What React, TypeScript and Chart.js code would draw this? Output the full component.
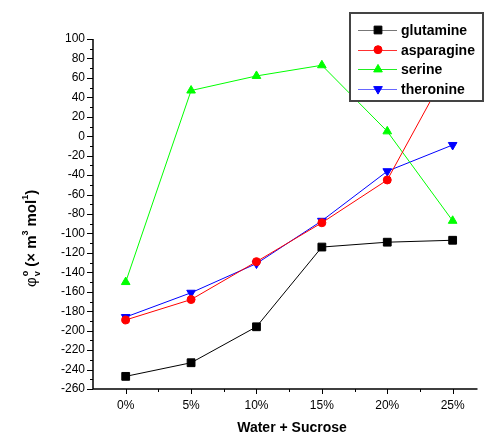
import React, { useEffect, useRef } from "react";
import { Chart, registerables } from "chart.js";
import { drawPoint } from "chart.js/helpers";

Chart.register(...registerables);

const categories = ["0%", "5%", "10%", "15%", "20%", "25%"];
const glutamine = [-247, -233, -196, -114, -109, -107];
const asparagine = [-189, -168, -129, -89, -45, 78];
const serine = [-150, 47, 62, 73, 5, -87];
const theronine = [-186, -161, -131, -87, -36, -9];
const seriesNames = ["glutamine", "asparagine", "serine", "theronine"];
const yMin = -260;
const yMax = 100;
const yStep = 20;
const xTitle = "Water + Sucrose";

const FONT = "'Liberation Sans', Arial, sans-serif";

const toPoints = (arr: number[]) => arr.map((v, i) => ({ x: i, y: v }));

const axesPlugin = {
  id: "customAxes",
  afterDraw(chart: any) {
    const ctx = chart.ctx;
    const { left, right, top, bottom } = chart.chartArea;
    const xs = chart.scales.x;
    const ys = chart.scales.y;
    ctx.save();
    ctx.strokeStyle = "#000";
    ctx.lineWidth = 1.5;
    ctx.beginPath();
    ctx.moveTo(left, top);
    ctx.lineTo(left, bottom);
    ctx.lineTo(right, bottom);
    ctx.stroke();
    ctx.lineWidth = 1;
    ctx.beginPath();
    for (let v = yMin; v <= yMax; v += yStep / 2) {
      const py = Math.round(ys.getPixelForValue(v)) + 0.5;
      const major = (v - yMin) % yStep === 0;
      ctx.moveTo(left, py);
      ctx.lineTo(left - (major ? 6 : 3), py);
    }
    for (let v = 0; v < categories.length + 0.5; v += 0.5) {
      const px = Math.round(xs.getPixelForValue(v)) + 0.5;
      if (px > right) break;
      const major = Number.isInteger(v);
      ctx.moveTo(px, bottom);
      ctx.lineTo(px, bottom + (major ? 5 : 3));
    }
    ctx.stroke();

    // x title
    ctx.fillStyle = "#000";
    ctx.font = `bold 14px ${FONT}`;
    ctx.textAlign = "center";
    ctx.textBaseline = "alphabetic";
    ctx.fillText(xTitle, 292, 432);

    // y title (rotated)
    ctx.save();
    ctx.translate(36, 287);
    ctx.rotate(-Math.PI / 2);
    ctx.textAlign = "left";
    let x = 0;
    const big = `bold 15px ${FONT}`;
    const small = `bold 9px ${FONT}`;
    const put = (t: string, font: string, dy: number) => {
      ctx.font = font;
      ctx.fillText(t, x, dy);
      return ctx.measureText(t).width;
    };
    x += put("φ", `15px ${FONT}`, 0) + 1;
    const w1 = put("o", small, -8);
    const w2 = put("v", small, 4);
    x += Math.max(w1, w2) + 4;
    x += put("(× m", big, 0);
    x += put("3", small, -8);
    x += 4;
    x += put("mol", big, 0);
    x += put("1", small, -8);
    x += put(")", big, 0);
    ctx.restore();

    // legend
    const lx = 350, ly = 13, lw = 133, lh = 88;
    ctx.fillStyle = "#fff";
    ctx.fillRect(lx, ly, lw, lh);
    ctx.strokeStyle = "#444";
    ctx.lineWidth = 2;
    ctx.strokeRect(lx, ly, lw, lh);
    const legendLineColors = ["#777", "#ff3030", "#22ee22", "#6666ff"];
    chart.data.datasets.forEach((ds: any, i: number) => {
      const cy = 30 + i * 19.7;
      ctx.strokeStyle = legendLineColors[i];
      ctx.lineWidth = 1;
      ctx.beginPath();
      ctx.moveTo(358, Math.round(cy) + 0.5);
      ctx.lineTo(397, Math.round(cy) + 0.5);
      ctx.stroke();
      ctx.fillStyle = ds.pointBackgroundColor;
      ctx.strokeStyle = ds.pointBorderColor;
      drawPoint(ctx, {
        pointStyle: ds.pointStyle,
        rotation: ds.pointRotation || 0,
        radius: ds.pointRadius,
        borderWidth: 1,
      } as any, 378, cy);
      ctx.fillStyle = "#000";
      ctx.font = `bold 14px ${FONT}`;
      ctx.textAlign = "left";
      ctx.textBaseline = "middle";
      ctx.fillText(ds.label, 401, cy + 1);
    });
    ctx.restore();
  },
};

export default function App() {
  const ref = useRef<HTMLCanvasElement>(null);
  useEffect(() => {
    const prevMargin = document.body.style.margin;
    document.body.style.margin = "0";
    const mk = (label: string, data: number[], color: string, style: string, radius: number, rot = 0) => ({
      label,
      data: toPoints(data),
      borderColor: color,
      backgroundColor: color,
      pointBackgroundColor: color,
      pointBorderColor: color,
      borderWidth: 1,
      pointStyle: style,
      pointRadius: radius,
      pointRotation: rot,
      pointBorderWidth: 1,
      tension: 0,
    });
    const chart = new Chart(ref.current!, {
      type: "line",
      data: {
        datasets: [
          mk(seriesNames[0], glutamine, "#000000", "rect", 5.5),
          mk(seriesNames[1], asparagine, "#ff0000", "circle", 4),
          mk(seriesNames[2], serine, "#00ff00", "triangle", 5),
          mk(seriesNames[3], theronine, "#0000ff", "triangle", 5, 180),
        ],
      },
      options: {
        animation: false,
        responsive: false,
        maintainAspectRatio: false,
        layout: { padding: { top: 39, left: 0, right: 0, bottom: 0 } },
        plugins: { legend: { display: false }, tooltip: { enabled: false } },
        scales: {
          x: {
            type: "linear",
            min: -0.5,
            max: 5.38,
            afterFit: (s: any) => { s.height = 46; },
            grid: { display: false, drawTicks: false },
            border: { display: false },
            ticks: {
              stepSize: 1,
              includeBounds: false,
              autoSkip: false,
              maxRotation: 0,
              padding: 9,
              color: "#000",
              font: { family: FONT, size: 12 },
              callback: (v: any) => (Number.isInteger(v) && categories[v] !== undefined ? categories[v] : ""),
            },
          },
          y: {
            type: "linear",
            min: yMin,
            max: yMax,
            afterFit: (s: any) => { s.width = 93; },
            grid: { display: false, drawTicks: false },
            border: { display: false },
            ticks: {
              stepSize: yStep,
              includeBounds: false,
              autoSkip: false,
              padding: 8,
              color: "#000",
              font: { family: FONT, size: 12 },
            },
          },
        },
      },
      plugins: [axesPlugin],
    } as any);
    return () => {
      chart.destroy();
      document.body.style.margin = prevMargin;
    };
  }, []);
  return (
    <div style={{ position: "absolute", left: 0, top: 0, width: 484, height: 435 }}>
      <canvas ref={ref} width={484} height={435} style={{ width: 484, height: 435, display: "block" }} />
    </div>
  );
}
